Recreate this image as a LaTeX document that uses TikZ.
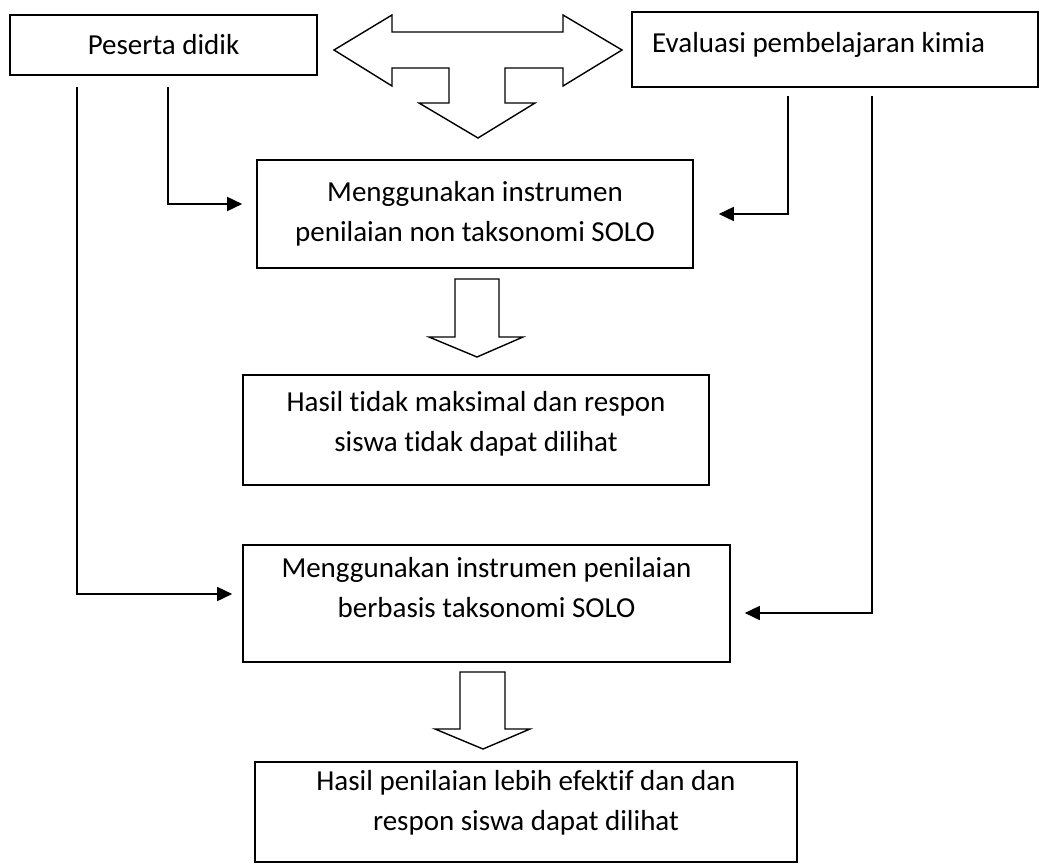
\documentclass[tikz,border=0pt]{standalone}
\usepackage{fontspec}
\setmainfont{Carlito}[Ligatures=NoCommon,RawFeature={-liga;-clig;-dlig}]
\usetikzlibrary{arrows.meta}
\begin{document}
\begin{tikzpicture}[x=1pt,y=-1pt,
  box/.style={draw, line width=1.6pt, inner sep=0pt},
  txt/.style={inner sep=0pt, align=center, font=\fontsize{29}{40}\selectfont},
  conn/.style={line width=1.6pt, -{Triangle[length=15pt,width=14pt]}},
  blockarrow/.style={draw, fill=white, line width=1.4pt, line join=miter}]
\useasboundingbox (0,0) rectangle (1040,864);

% boxes
\node[box, minimum width=307pt, minimum height=60pt] (b1) at (163.5,45) {};
\node[box, minimum width=406pt, minimum height=75pt] (b2) at (835,49.5) {};
\node[box, minimum width=436pt, minimum height=108pt] (b3) at (475,214) {};
\node[box, minimum width=466pt, minimum height=110pt] (b4) at (476,430) {};
\node[box, minimum width=487pt, minimum height=117pt] (b5) at (486.5,603.5) {};
\node[box, minimum width=542pt, minimum height=100pt] (b6) at (526,812) {};

% texts
\node[txt] (t1) at (163.5,45) {Peserta didik};
\node[txt, anchor=base west] (t2) at (652,53) {Evaluasi pembelajaran kimia};
\node[txt] (t3) at (475,214) {Menggunakan instrumen\\penilaian non taksonomi SOLO};
\node[txt] (t4) at (476,424) {Hasil tidak maksimal dan respon\\siswa tidak dapat dilihat};
\node[txt] (t5) at (486.5,588) {Menggunakan instrumen penilaian\\berbasis taksonomi SOLO};
\node[txt] (t6) at (526,803) {Hasil penilaian lebih efektif dan dan\\respon siswa dapat dilihat};

% connector starts
\coordinate (s1) at (168,87);
\coordinate (s2) at (77,87);
\coordinate (s3) at (788,96);
\coordinate (s4) at (872,96);

\draw[conn, shorten >=14pt] (s1) |- ([yshift=10pt]b3.west);
\draw[conn, shorten >=25pt] (s3) |- (b3.east);
\draw[conn, shorten >=10pt] (s2) |- ([yshift=9.5pt]b5.west);
\draw[conn, shorten >=14pt] (s4) |- ([yshift=-9.5pt]b5.east);

% three-way block arrow
\draw[blockarrow] (334,50) -- (392,15) -- (392,32) -- (563,32) -- (563,15) -- (622,50)
  -- (563,86) -- (563,68) -- (505,68) -- (505,103) -- (535,103) -- (478,138)
  -- (419,103) -- (449,103) -- (449,68) -- (392,68) -- (392,86) -- cycle;

% down block arrows
\draw[blockarrow] (455,279) -- (499,279) -- (499,337) -- (523,337) -- (477,357)
  -- (429,337) -- (455,337) -- cycle;
\draw[blockarrow] (460,672) -- (505,672) -- (505,729) -- (530,729) -- (483,749)
  -- (435,729) -- (460,729) -- cycle;
\end{tikzpicture}
\end{document}
